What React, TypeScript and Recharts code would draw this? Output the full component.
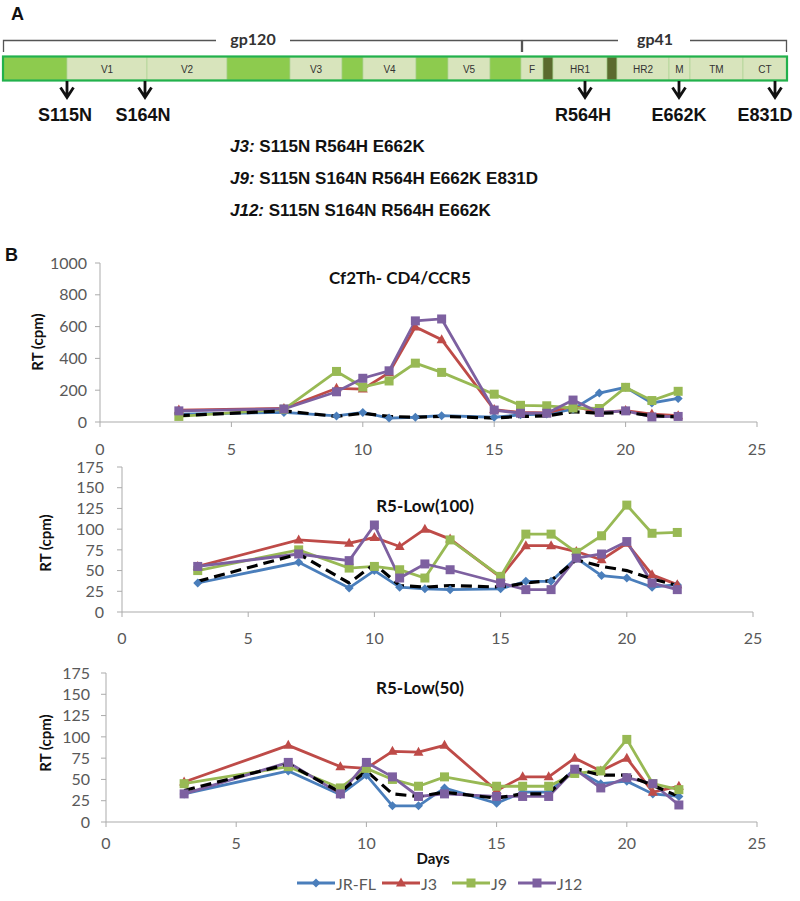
import { LineChart, Line, XAxis, YAxis } from 'recharts';

// sampling days (x axis)
const days = [3, 7, 9, 10, 11, 12, 13, 15, 16, 17, 18, 19, 20, 21, 22];

// Cf2Th- CD4/CCR5
const cf2JRFL = [50, 60, 38, 60, 25, 30, 40, 30, 45, 50, 80, 182, 218, 120, 148];
const cf2J3 = [75, 85, 212, 207, 310, 598, 518, 78, 60, 58, 100, 60, 72, 50, 40];
const cf2J9 = [35, 80, 318, 220, 258, 370, 312, 175, 105, 102, 88, 85, 218, 135, 193];
const cf2J12 = [70, 82, 190, 275, 322, 636, 648, 75, 55, 55, 138, 60, 70, 32, 35];
const cf2Mock = [40, 70, 35, 55, 35, 30, 35, 25, 35, 38, 65, 55, 60, 40, 32];

// R5-Low(100)
const r100JRFL = [35, 60, 29, 50, 30, 28, 27, 28, 37, 37, 65, 44, 41, 30, 33];
const r100J3 = [55, 87, 83, 90, 79, 100, 88, 42, 80, 80, 73, 63, 83, 45, 33];
const r100J9 = [50, 75, 53, 55, 51, 41, 87, 43, 94, 94, 72, 92, 129, 95, 96];
const r100J12 = [55, 70, 62, 105, 41, 58, 51, 35, 27, 27, 65, 70, 85, 35, 27];
const r100Mock = [37, 70, 35, 58, 32, 30, 32, 30, 35, 38, 63, 55, 50, 40, 32];

// R5-Low(50)
const r50JRFL = [33, 60, 32, 55, 19, 19, 40, 22, 35, 35, 62, 45, 48, 33, 30];
const r50J3 = [47, 90, 65, 63, 83, 82, 90, 37, 53, 53, 75, 60, 75, 35, 42];
const r50J9 = [45, 65, 40, 63, 50, 42, 53, 42, 42, 42, 57, 60, 97, 45, 38];
const r50J12 = [33, 70, 33, 70, 53, 30, 33, 30, 30, 30, 62, 40, 52, 45, 20];
const r50Mock = [37, 68, 35, 60, 33, 30, 35, 28, 33, 33, 63, 55, 55, 43, 30];

const xTicks = [0, 5, 10, 15, 20, 25];
const cf2Ticks = [0, 200, 400, 600, 800, 1000];
const lowTicks = [0, 25, 50, 75, 100, 125, 150, 175];

const seriesNames = ['JR-FL', 'J3', 'J9', 'J12'];
const colors = ['#4A7EBB', '#BE4B48', '#98B954', '#7D60A0'];
const shapes = ['diamond', 'triangle', 'square', 'square'];

const FONT = 'Lato, "Open Sans", sans-serif';
const ARIAL = '"Liberation Sans", Arial, sans-serif';
const GREY = '#595959';
const AXIS = '#ABABAB';

function toRows(a: number[], b: number[], c: number[], d: number[], m: number[]) {
  return days.map((day, i) => ({ day, s0: a[i], s1: b[i], s2: c[i], s3: d[i], mock: m[i] }));
}

function markerPath(shape: string, cx: number, cy: number) {
  if (shape === 'diamond') return `M${cx},${cy - 4.5}L${cx + 4.5},${cy}L${cx},${cy + 4.5}L${cx - 4.5},${cy}Z`;
  if (shape === 'triangle') return `M${cx},${cy - 5.5}L${cx + 5},${cy + 3.5}L${cx - 5},${cy + 3.5}Z`;
  return `M${cx - 4.5},${cy - 4.5}h9v9h-9Z`;
}

function makeDot(shape: string, color: string) {
  return (props: any) => {
    const { cx, cy, index } = props;
    if (cx == null || cy == null) return <g key={index} />;
    return <path key={index} d={markerPath(shape, cx, cy)} fill={color} />;
  };
}

type PanelProps = {
  top: number; height: number;
  margin: { top: number; right: number; bottom: number; left: number };
  xHeight: number; xTickMargin: number; yTickMargin: number;
  yDomain: number[]; yTicks: number[];
  rows: any[];
};

function Panel({ top, height, margin, xHeight, xTickMargin, yTickMargin, yDomain, yTicks, rows }: PanelProps) {
  const tick = { fill: GREY, fontSize: 16, fontFamily: FONT };
  return (
    <div style={{ position: 'absolute', left: 0, top, width: 800, height }}>
      <LineChart width={800} height={height} data={rows} margin={margin}>
        <XAxis
          dataKey="day" type="number" domain={[0, 25]} ticks={xTicks}
          stroke={AXIS} tick={tick} tickSize={5} tickMargin={xTickMargin} height={xHeight}
        />
        <YAxis
          type="number" domain={yDomain} ticks={yTicks} width={60}
          stroke={AXIS} tick={tick} tickSize={5} tickMargin={yTickMargin} interval={0}
        />
        {[0, 1, 2, 3].map((k) => (
          <Line
            key={k} dataKey={`s${k}`} stroke={colors[k]} strokeWidth={2.8}
            dot={makeDot(shapes[k], colors[k])} activeDot={false} isAnimationActive={false}
          />
        ))}
        <Line
          dataKey="mock" stroke="#000" strokeWidth={3.2} strokeDasharray="11 6"
          dot={false} activeDot={false} isAnimationActive={false}
        />
      </LineChart>
    </div>
  );
}

function Diagram() {
  const segs: [number, number, string, string][] = [
    [3, 67, 'g', ''], [67, 147, 'l', 'V1'], [147, 227, 'l', 'V2'], [227, 290, 'g', ''],
    [290, 342, 'l', 'V3'], [342, 363, 'g', ''], [363, 416, 'l', 'V4'], [416, 448, 'g', ''],
    [448, 490, 'l', 'V5'], [490, 521, 'g', ''], [521, 543, 'l', 'F'], [543, 553, 'd', ''],
    [553, 607, 'l', 'HR1'], [607, 617, 'd', ''], [617, 669, 'l', 'HR2'], [669, 690, 'l', 'M'],
    [690, 743, 'l', 'TM'], [743, 787, 'l', 'CT'],
  ];
  const fills: Record<string, string> = { g: '#8DCB4E', l: '#D8E4BC', d: '#5B6A2E' };
  const muts: [number, number, string][] = [
    [67, 65, 'S115N'], [145, 143, 'S164N'], [585, 583, 'R564H'], [679, 679, 'E662K'], [775, 765, 'E831D'],
  ];
  return (
    <svg width={800} height={270} style={{ position: 'absolute', left: 0, top: 0 }}>
      <text x={11} y={20} fontFamily={ARIAL} fontWeight="bold" fontSize={18} fill="#111">A</text>
      <g stroke="#555" strokeWidth={1.3} fill="none">
        <path d="M3.5,52V40.5H216M290,40.5H521.5V52" />
        <path d="M522.5,52V40.5H618M690,40.5H786.5V52" />
      </g>
      <text x={253} y={45} textAnchor="middle" fontFamily={FONT} fontWeight="bold" fontSize={16} fill="#333">gp120</text>
      <text x={655} y={45} textAnchor="middle" fontFamily={FONT} fontWeight="bold" fontSize={16} fill="#333">gp41</text>
      {segs.map(([a, b, t, lab], i) => (
        <g key={i}>
          <rect x={a} y={57} width={b - a} height={23} fill={fills[t]} stroke="#A9D08E" strokeWidth={0.6} />
          {lab && (
            <text x={(a + b) / 2} y={72.5} textAnchor="middle" fontFamily={ARIAL} fontSize={10} fill="#333">{lab}</text>
          )}
        </g>
      ))}
      <rect x={3} y={56.5} width={784} height={24} fill="none" stroke="#22B14C" strokeWidth={2.2} />
      {muts.map(([ax, tx, lab]) => (
        <g key={lab}>
          <path
            d={`M${ax},81V97M${ax - 6.5},87.5L${ax},97.5L${ax + 6.5},87.5`}
            stroke="#111" strokeWidth={2.8} fill="none" strokeLinejoin="miter"
          />
          <text x={tx} y={121} textAnchor="middle" fontFamily={ARIAL} fontWeight="bold" fontSize={18} fill="#111">{lab}</text>
        </g>
      ))}
      <text x={5} y={261} fontFamily={ARIAL} fontWeight="bold" fontSize={18} fill="#111">B</text>
    </svg>
  );
}

function LegendItem({ x, k }: { x: number; k: number }) {
  return (
    <div style={{ position: 'absolute', left: x, top: 873, height: 20, display: 'flex', alignItems: 'center' }}>
      <svg width={38} height={20}>
        <line x1={0} y1={10} x2={38} y2={10} stroke={colors[k]} strokeWidth={2.8} />
        <path d={markerPath(shapes[k], 19, 10)} fill={colors[k]} />
      </svg>
      <span style={{ fontFamily: FONT, fontSize: 16, color: GREY, marginLeft: 1 }}>{seriesNames[k]}</span>
    </div>
  );
}

function Abs({ x, y, children, rotate, size = 17 }: any) {
  return (
    <div
      style={{
        position: 'absolute', left: x, top: y, whiteSpace: 'nowrap',
        transform: `translate(-50%, -50%)${rotate ? ' rotate(-90deg)' : ''}`,
        fontFamily: FONT, fontWeight: 'bold', fontSize: size, color: '#111',
      }}
    >
      {children}
    </div>
  );
}

export default function App() {
  const jLine = { position: 'absolute' as const, left: 230, fontFamily: ARIAL, fontWeight: 'bold' as const, fontSize: 17, color: '#111' };
  return (
    <div style={{ position: 'absolute', left: 0, top: 0, width: 800, height: 901, background: '#fff', fontFamily: FONT }}>
      <Diagram />
      <div style={{ ...jLine, top: 137 }}><i>J3:</i> S115N R564H E662K</div>
      <div style={{ ...jLine, top: 169 }}><i>J9:</i> S115N S164N R564H E662K E831D</div>
      <div style={{ ...jLine, top: 201 }}><i>J12:</i> S115N S164N R564H E662K</div>

      <Panel
        top={240} height={230} margin={{ top: 23, right: 43, bottom: 8, left: 40 }}
        xHeight={40} xTickMargin={17} yTickMargin={8} yDomain={[0, 1000]} yTicks={cf2Ticks}
        rows={toRows(cf2JRFL, cf2J3, cf2J9, cf2J12, cf2Mock)}
      />
      <Panel
        top={455} height={200} margin={{ top: 12, right: 47, bottom: 8, left: 62 }}
        xHeight={35} xTickMargin={16} yTickMargin={13} yDomain={[0, 175]} yTicks={lowTicks}
        rows={toRows(r100JRFL, r100J3, r100J9, r100J12, r100Mock)}
      />
      <Panel
        top={660} height={200} margin={{ top: 13, right: 43, bottom: 8, left: 46 }}
        xHeight={30} xTickMargin={11} yTickMargin={11} yDomain={[0, 175]} yTicks={lowTicks}
        rows={toRows(r50JRFL, r50J3, r50J9, r50J12, r50Mock)}
      />

      <Abs x={400} y={277}>Cf2Th- CD4/CCR5</Abs>
      <Abs x={425} y={505}>R5-Low(100)</Abs>
      <Abs x={420} y={687}>R5-Low(50)</Abs>
      <Abs x={37} y={342} rotate size={15}>RT (cpm)</Abs>
      <Abs x={45} y={543} rotate size={15}>RT (cpm)</Abs>
      <Abs x={45} y={743} rotate size={15}>RT (cpm)</Abs>
      <Abs x={433} y={858} size={15}>Days</Abs>

      <LegendItem x={297} k={0} />
      <LegendItem x={382} k={1} />
      <LegendItem x={452} k={2} />
      <LegendItem x={518} k={3} />
    </div>
  );
}
